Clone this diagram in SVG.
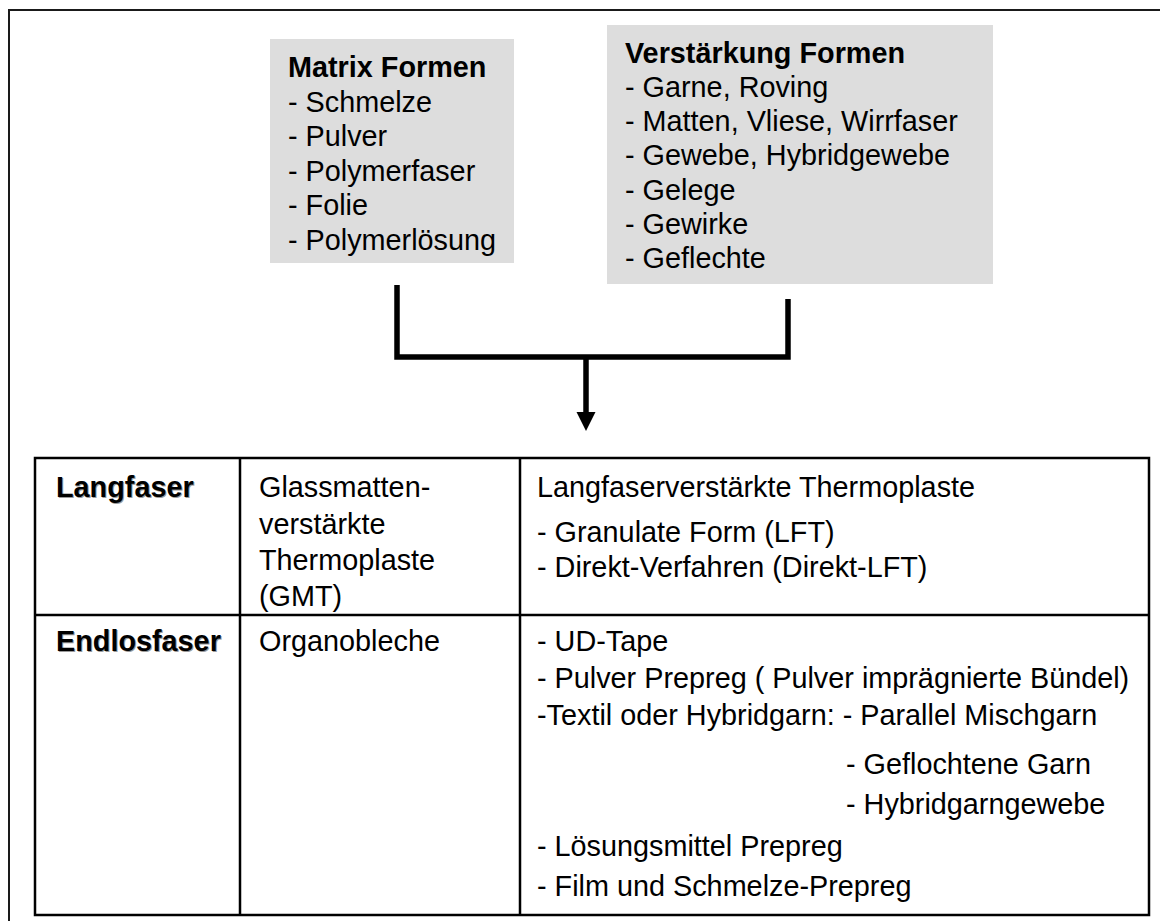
<svg xmlns="http://www.w3.org/2000/svg" width="1160" height="921" viewBox="0 0 1160 921">
<style>
.t{font-family:"Liberation Sans",Arial,sans-serif;font-size:28.8px;fill:#000}
.b{font-weight:bold}
.sh{fill:#9a9a9a}
.box{fill:#dddddd;stroke:none}
.grid{stroke:#000;stroke-width:2.5;fill:none}
.conn{stroke:#000;stroke-width:5.5;fill:none;stroke-linejoin:miter;stroke-linecap:butt}
</style>
<rect x="9" y="10" width="1170" height="930" fill="#fff" stroke="#1a1a1a" stroke-width="2"/>
<g id="matrix">
<rect class="box" x="270" y="39" width="244" height="224"/>
<text class="t b" x="288" y="77">Matrix Formen</text>
<text class="t" x="288" y="111.5">- Schmelze</text>
<text class="t" x="288" y="146">- Pulver</text>
<text class="t" x="288" y="180.5">- Polymerfaser</text>
<text class="t" x="288" y="215">- Folie</text>
<text class="t" x="288" y="249.5">- Polymerlösung</text>
</g>
<g id="verstaerkung">
<rect class="box" x="607" y="25" width="386" height="259"/>
<text class="t b" x="625" y="62.5">Verstärkung Formen</text>
<text class="t" x="625" y="96.8">- Garne, Roving</text>
<text class="t" x="625" y="131.1">- Matten, Vliese, Wirrfaser</text>
<text class="t" x="625" y="165.4">- Gewebe, Hybridgewebe</text>
<text class="t" x="625" y="199.7">- Gelege</text>
<text class="t" x="625" y="234">- Gewirke</text>
<text class="t" x="625" y="268.3">- Geflechte</text>
</g>
<g id="connectors">
<path class="conn" d="M397,285 V357 H788 V299"/>
<path class="conn" d="M586,357 V414"/>
<polygon points="576.5,412 595.5,412 586,431" fill="#000"/>
</g>
<g id="table">
<rect class="grid" x="35" y="458" width="1114" height="457"/>
<line class="grid" x1="35" y1="615" x2="1149" y2="615"/>
<line class="grid" x1="240" y1="458" x2="240" y2="915"/>
<line class="grid" x1="520" y1="458" x2="520" y2="915"/>
</g>
<g id="row-langfaser">
<text class="t b sh" x="57" y="498">Langfaser</text>
<text class="t b" x="56" y="497">Langfaser</text>
<text class="t" x="259" y="497">Glassmatten-</text>
<text class="t" x="259" y="533.5">verstärkte</text>
<text class="t" x="259" y="570">Thermoplaste</text>
<text class="t" x="259" y="606">(GMT)</text>
<text class="t" x="537" y="497">Langfaserverstärkte Thermoplaste</text>
<text class="t" x="537" y="542">- Granulate Form (LFT)</text>
<text class="t" x="537" y="577">- Direkt-Verfahren (Direkt-LFT)</text>
</g>
<g id="row-endlosfaser">
<text class="t b sh" x="57" y="652">Endlosfaser</text>
<text class="t b" x="56" y="651">Endlosfaser</text>
<text class="t" x="259" y="651">Organobleche</text>
<text class="t" x="537" y="651">- UD-Tape</text>
<text class="t" x="537" y="688">- Pulver Prepreg ( Pulver imprägnierte Bündel)</text>
<text class="t" x="537" y="725">-Textil oder Hybridgarn: - Parallel Mischgarn</text>
<text class="t" x="846" y="774">- Geflochtene Garn</text>
<text class="t" x="846" y="814">- Hybridgarngewebe</text>
<text class="t" x="537" y="856">- Lösungsmittel Prepreg</text>
<text class="t" x="537" y="896">- Film und Schmelze-Prepreg</text>
</g>
</svg>
